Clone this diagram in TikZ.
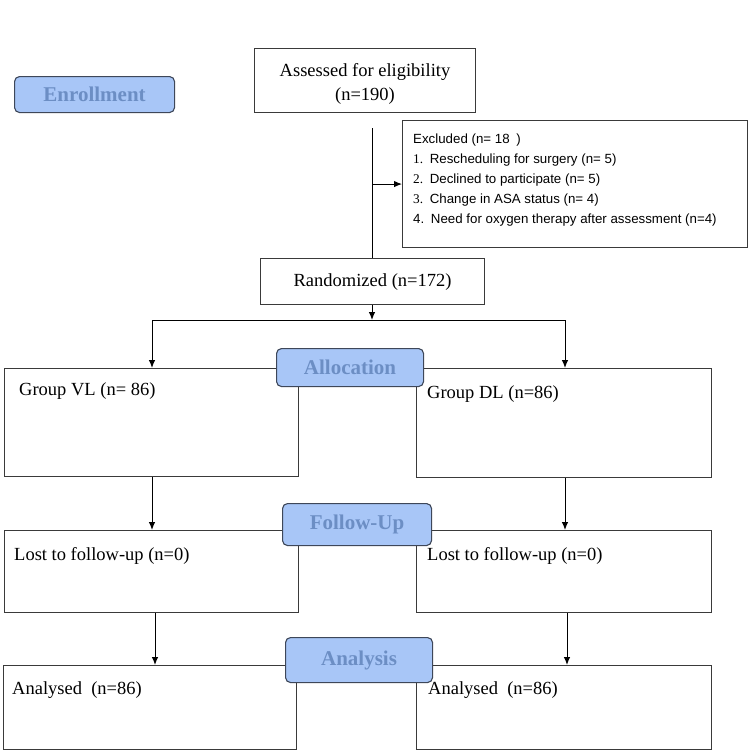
\documentclass[tikz,border=0pt]{standalone}
\usepackage{fontspec}
\setmainfont{Liberation Serif}
\newfontfamily\exclfont{Liberation Sans}
\usetikzlibrary{arrows.meta,positioning}
\definecolor{stagefill}{HTML}{A8C6F7}
\definecolor{stagetext}{HTML}{6C8EC4}
\definecolor{stagedraw}{HTML}{3E4759}
\definecolor{linegray}{HTML}{3A3A3A}
\tikzset{
  box/.style={draw=linegray,line width=1.1pt,fill=white,inner sep=0pt,anchor=north west},
  txt/.style={font=\fontsize{18.5}{24}\selectfont,align=center},
  tl/.style={anchor=north west,inner sep=0pt,font=\fontsize{18.5}{22}\selectfont},
  stage/.style={rounded corners=5pt,draw=stagedraw,line width=1.1pt,fill=stagefill,text=stagetext,
    font=\fontsize{21}{25}\selectfont\bfseries,anchor=north west,inner sep=0pt},
  ar/.style={-{Latex[length=8pt,width=6.5pt]},draw=black,line width=1pt},
}
\begin{document}
\begin{tikzpicture}[x=1pt,y=-1pt]
    \useasboundingbox (0,0) rectangle (750,750);
    % top part
    \node[stage,minimum width=160,minimum height=36] (enrol) at (14,76) {Enrollment};
    \node[box,minimum width=221,minimum height=64] (assess) at (254,48) {};
    \node[txt,inner sep=0pt] (assesstxt) at (365,84) {Assessed for eligibility\\(n=190)};
    \node[box,minimum width=345,minimum height=127] (excl) at (402,120) {};
    \node[anchor=north west,inner sep=0pt,align=left,font=\exclfont\fontsize{13.3}{19.8}\selectfont] (excltxt) at (413,134)
      {Excluded (n= 18\enspace)\\
       {\rmfamily 1.}\enspace Rescheduling for surgery (n= 5)\\
       {\rmfamily 2.}\enspace Declined to participate (n= 5)\\
       {\rmfamily 3.}\enspace Change in ASA status (n= 4)\\
       4.\enspace Need for oxygen therapy after assessment (n=4)};
    \node[box,txt,minimum width=224,minimum height=46] (rand) at (260,258) {Randomized (n=172)};
    \coordinate (trunk) at (372,128);
    \coordinate (split) at (372,320);
    \draw[draw=black,line width=1pt] (trunk) -- (trunk|-rand.north);
    \draw[ar] (trunk|-excl.west) -- (excl.west);
    \draw[ar] (rand.south-|split) -- (split);
    % allocation
    \node[box,minimum width=294,minimum height=108] (vl) at (4,368) {};
    \node[box,minimum width=295,minimum height=109] (dl) at (416,368) {};
    \node[tl] at (19,382) {Group VL (n= 86)};
    \node[tl] at (427,385) {Group DL (n=86)};
    \draw[draw=black,line width=1pt] (152,320) -- (565,320);
    \draw[ar] (152,320) -- (vl.north-|152,0);
    \draw[ar] (565,320) -- (dl.north-|565,0);
    \node[stage,minimum width=147,minimum height=38] (alloc) at (276,348) {Allocation};
    % follow-up
    \node[box,minimum width=294,minimum height=82] (lfvl) at (4,530) {};
    \node[box,minimum width=295,minimum height=82] (lfdl) at (416,530) {};
    \node[tl] at (14,547) {Lost to follow-up (n=0)};
    \node[tl] at (427,547) {Lost to follow-up (n=0)};
    \draw[ar] (vl.south-|152,0) -- (lfvl.north-|152,0);
    \draw[ar] (dl.south-|565,0) -- (lfdl.north-|565,0);
    \node[stage,minimum width=149,minimum height=42] (follow) at (282,503) {Follow-Up};
    % analysis
    \node[box,minimum width=293,minimum height=84] (anvl) at (3,665) {};
    \node[box,minimum width=295,minimum height=84] (andl) at (416,665) {};
    \node[tl] at (12,681) {Analysed\enspace(n=86)};
    \node[tl] at (428,681) {Analysed\enspace(n=86)};
    \draw[ar] (lfvl.south-|155,0) -- (anvl.north-|155,0);
    \draw[ar] (lfdl.south-|567,0) -- (andl.north-|567,0);
    \node[stage,minimum width=147,minimum height=45] (analys) at (285,637) {Analysis};
\end{tikzpicture}
\end{document}
